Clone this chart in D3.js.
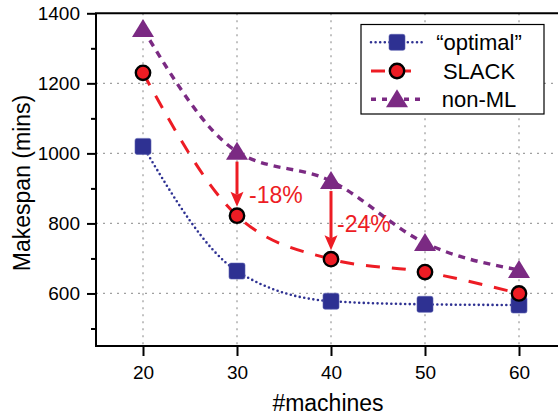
<!DOCTYPE html>
<html>
<head>
<meta charset="utf-8">
<script src="https://cdn.jsdelivr.net/npm/d3@7/dist/d3.min.js"></script>
<style>
  body { margin: 0; background: #fff; }
  text { font-family: "Liberation Sans", Arial, sans-serif; }
</style>
</head>
<body>
<svg></svg>
<script>
// values
const machines = [20, 30, 40, 50, 60];
const optimal = [1020, 664, 578, 569, 567];
const slack = [1230, 822, 698, 661, 600];
const nonML = [1355, 1005, 921, 744, 667];

const yMajor = [600, 800, 1000, 1200, 1400];
const yMinor = [500, 700, 900, 1100, 1300];

const seriesNames = ["\u201Coptimal\u201D", "SLACK", "non-ML"];
const arrowAt = [30, 40];
const arrowLabels = ["-18%", "-24%"];

const W = 558, H = 420;
const plotLeft = 96, plotRight = 566, plotTop = 13.3, plotBottom = 346;

const svg = d3.select("svg").attr("width", W).attr("height", H);

const x = d3.scaleLinear().domain([15, 65]).range([plotLeft, plotRight]);
const y = d3.scaleLinear().domain([450, 1400]).range([plotBottom, plotTop]);

const red = "#ED1C24", navy = "#2E3192", purple = "#7B2A83";

// grid
const grid = svg.append("g").attr("stroke", "#a0a0a0").attr("stroke-width", 1.3)
    .attr("stroke-dasharray", "2,5");
grid.selectAll(".gx").data(machines).enter().append("line")
    .attr("x1", d => x(d)).attr("x2", d => x(d))
    .attr("y1", plotTop).attr("y2", plotBottom);
grid.selectAll(".gy").data(yMajor.filter(v => v < 1400)).enter().append("line")
    .attr("x1", plotLeft).attr("x2", W)
    .attr("y1", d => y(d)).attr("y2", d => y(d));

// axes
const xAxis = svg.append("g")
    .attr("transform", `translate(0,${plotBottom})`)
    .call(d3.axisBottom(x).tickValues(machines).tickSize(10).tickPadding(6).tickFormat(d3.format("d")));
const yAxis = svg.append("g")
    .attr("transform", `translate(${plotLeft},0)`)
    .call(d3.axisLeft(y).tickValues(yMajor).tickSize(9).tickPadding(7).tickFormat(d3.format("d")));
const yMinorAxis = svg.append("g")
    .attr("transform", `translate(${plotLeft},0)`)
    .call(d3.axisLeft(y).tickValues(yMinor).tickSize(5).tickFormat(""));

[xAxis, yAxis, yMinorAxis].forEach(a => {
    a.select(".domain").remove();
    a.selectAll("line").attr("stroke", "#000").attr("stroke-width", 2);
    a.selectAll("text").attr("fill", "#000").style("font-size", "19px");
});
xAxis.selectAll("text").attr("dy", "0.9em");

// frame: left, bottom, top
svg.append("path")
    .attr("d", `M${W},${plotTop}H${plotLeft}V${plotBottom}H${W}`)
    .attr("fill", "none").attr("stroke", "#000").attr("stroke-width", 2);

// axis titles
svg.append("text").attr("x", 328).attr("y", 411).attr("text-anchor", "middle")
    .style("font-size", "23px").text("#machines");
svg.append("text").attr("transform", "translate(30,183) rotate(-90)")
    .attr("text-anchor", "middle").style("font-size", "23px").text("Makespan (mins)");

const series = [
    { name: seriesNames[0], values: optimal, color: navy, width: 2.6, dash: "0,4.6", cap: "round", marker: "square" },
    { name: seriesNames[1], values: slack, color: red, width: 3, dash: "14,12", cap: "butt", marker: "circle" },
    { name: seriesNames[2], values: nonML, color: purple, width: 3.4, dash: "7,6", cap: "butt", marker: "triangle" }
];

const line = d3.line().curve(d3.curveMonotoneX)
    .x((d, i) => x(machines[i])).y(d => y(d));

svg.append("g").selectAll("path").data(series).enter().append("path")
    .attr("d", s => line(s.values))
    .attr("fill", "none")
    .attr("stroke", s => s.color)
    .attr("stroke-width", s => s.width)
    .attr("stroke-dasharray", s => s.dash)
    .attr("stroke-linecap", s => s.cap);

function drawMarker(g, s, cx, cy) {
    if (s.marker === "square") {
        g.append("rect").attr("x", cx - 8).attr("y", cy - 8).attr("width", 16).attr("height", 16)
            .attr("rx", 2).attr("fill", s.color).attr("stroke", "#5a5fae").attr("stroke-width", 0.6);
    } else if (s.marker === "circle") {
        g.append("circle").attr("cx", cx).attr("cy", cy).attr("r", 7.2)
            .attr("fill", s.color).attr("stroke", "#000").attr("stroke-width", 2.4);
    } else {
        g.append("path")
            .attr("d", `M${cx},${cy - 10}L${cx + 11},${cy + 8}L${cx - 11},${cy + 8}Z`)
            .attr("fill", s.color);
    }
}

const markers = svg.append("g");
series.forEach(s => {
    s.values.forEach((v, i) => drawMarker(markers, s, x(machines[i]), y(v)));
});

// reduction arrows from non-ML down to SLACK
const labelDx = [12, 6];
const ann = svg.append("g");
arrowAt.forEach((m, k) => {
    const i = machines.indexOf(m);
    const cx = x(m);
    const y0 = y(nonML[i]) + 10;
    const tip = y(slack[i]) - 9;
    ann.append("line").attr("x1", cx).attr("x2", cx).attr("y1", y0).attr("y2", tip - 12)
        .attr("stroke", red).attr("stroke-width", 3);
    ann.append("path")
        .attr("d", `M${cx},${tip}L${cx - 6.5},${tip - 15}L${cx},${tip - 12}L${cx + 6.5},${tip - 15}Z`)
        .attr("fill", red);
    ann.append("text").attr("x", cx + labelDx[k]).attr("y", y(nonML[i]) + 51)
        .attr("fill", red).style("font-size", "23px").text(arrowLabels[k]);
});

// legend
const lg = svg.append("g");
lg.append("rect").attr("x", 361).attr("y", 24.5).attr("width", 183).attr("height", 89.5)
    .attr("fill", "#fff").attr("stroke", "#000").attr("stroke-width", 1.2);
const rowY = [42.3, 71, 99.3];
const legendDash = ["0,4.6", "14,12", "5,6"];
series.forEach((s, k) => {
    lg.append("line").attr("x1", 371).attr("x2", 423).attr("y1", rowY[k]).attr("y2", rowY[k])
        .attr("stroke", s.color).attr("stroke-width", s.width)
        .attr("stroke-linecap", s.cap)
        .attr("stroke-dasharray", legendDash[k]);
    drawMarker(lg, s, 397, rowY[k]);
    lg.append("text").attr("x", 479).attr("y", rowY[k]).attr("dy", "0.36em")
        .attr("text-anchor", "middle").style("font-size", "22px").text(s.name);
});
</script>
</body>
</html>
